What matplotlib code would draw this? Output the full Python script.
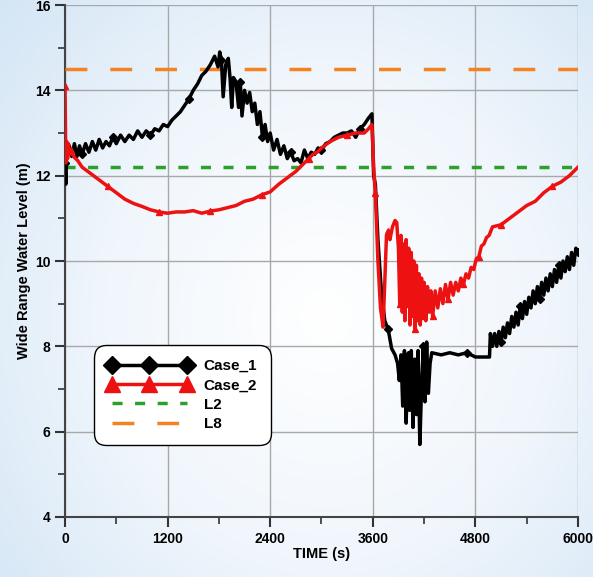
import numpy as np
import matplotlib
matplotlib.use("Agg")
import matplotlib.pyplot as plt
from matplotlib.colors import LinearSegmentedColormap

# Case_1 (black)
t1 = [0, 10, 20, 35, 50, 80, 110, 140, 170, 200, 240, 280, 320, 360, 400, 440, 480, 520,
      560, 600, 650, 700, 750, 800, 850, 900, 950, 1000, 1050, 1100, 1150, 1200, 1250, 1300,
      1350, 1400, 1450, 1500, 1550, 1600, 1650, 1700, 1750, 1790, 1810, 1830, 1850, 1880,
      1910, 1930, 1950, 1970, 2000, 2030, 2050, 2070, 2100, 2130, 2160, 2190, 2220, 2250,
      2280, 2310, 2340, 2370, 2400, 2440, 2480, 2520, 2560, 2600, 2640, 2680, 2720, 2760,
      2800, 2840, 2880, 2920, 2960, 3000, 3050, 3100, 3150, 3200, 3250, 3300, 3350, 3400,
      3450, 3500, 3550, 3590, 3610, 3630, 3660, 3700, 3740, 3780, 3820, 3860, 3890, 3910,
      3930, 3950, 3970, 3990, 4010, 4030, 4050, 4070, 4090, 4110, 4130, 4150, 4170, 4190,
      4210, 4230, 4250, 4270, 4290, 4400, 4500, 4600, 4700, 4800, 4900, 4965, 4975,
      5000, 5025, 5050, 5075, 5100, 5125, 5150, 5175, 5200, 5225, 5250, 5275, 5300, 5325,
      5350, 5375, 5400, 5425, 5450, 5475, 5500, 5525, 5550, 5575, 5600, 5625, 5650, 5675,
      5700, 5725, 5750, 5775, 5800, 5825, 5850, 5875, 5900, 5925, 5950, 5975, 6000]
y1 = [12.3, 11.8, 12.7, 12.5, 12.7, 12.45, 12.75, 12.45, 12.7, 12.5, 12.75, 12.55, 12.8,
      12.6, 12.85, 12.65, 12.8, 12.7, 12.9, 12.75, 12.95, 12.8, 12.95, 12.85, 13.05, 12.9,
      13.05, 12.95, 13.1, 13.05, 13.2, 13.15, 13.3, 13.4, 13.5, 13.65, 13.8, 14.0, 14.15,
      14.35, 14.45, 14.6, 14.8, 14.55, 14.9, 14.7, 13.85, 14.6, 14.75, 14.3, 13.6, 14.3,
      14.2, 13.6, 14.2, 13.4, 14.0, 13.7, 13.95, 13.5, 13.7, 13.2, 13.5, 12.9, 13.2, 12.8,
      13.0, 12.6, 12.85, 12.5, 12.7, 12.4, 12.55, 12.35, 12.4, 12.3, 12.6, 12.4, 12.55,
      12.5, 12.65, 12.6, 12.75, 12.8, 12.9, 12.95, 13.0, 13.0, 13.05, 12.9, 13.1, 13.2,
      13.35, 13.45, 12.0, 11.8, 10.5, 9.3, 8.6, 8.4, 7.95, 7.8, 7.6, 7.2, 7.8, 6.6, 7.9,
      6.2, 7.8, 6.5, 7.9, 6.1, 7.7, 6.4, 7.9, 5.7, 7.0, 8.0, 6.7, 8.1, 6.9, 7.6, 7.85,
      7.8, 7.85, 7.8, 7.85, 7.75, 7.75, 7.75, 8.3,
      8.0, 8.3, 8.0, 8.35, 8.1, 8.45, 8.2, 8.55, 8.3, 8.7, 8.45, 8.8, 8.5, 8.95,
      8.65, 9.05, 8.75, 9.15, 8.9, 9.3, 9.0, 9.4, 9.1, 9.5, 9.2, 9.6, 9.3, 9.7,
      9.4, 9.8, 9.5, 9.9, 9.6, 10.0, 9.75, 10.1, 9.8, 10.2, 9.9, 10.3, 10.2]

# Case_2 (red)
t2 = [0, 10, 20, 30, 40, 55, 70, 100, 150, 200, 300, 400, 500, 600, 700, 800, 900, 1000,
      1100, 1200, 1300, 1400, 1500, 1600, 1700, 1800, 1900, 2000, 2100, 2200, 2300, 2400,
      2500, 2600, 2700, 2800, 2850, 2900, 2950, 3000, 3100, 3200, 3300, 3400, 3500, 3550,
      3590, 3610, 3630, 3660, 3690, 3720, 3740, 3760, 3780, 3800, 3830, 3860, 3880, 3900,
      3915, 3930, 3945, 3960, 3975, 3990, 4005, 4020, 4035, 4050, 4065, 4080, 4095, 4110,
      4125, 4140, 4155, 4170, 4185, 4200, 4220, 4240, 4260, 4280, 4300, 4330, 4360, 4390,
      4420, 4450, 4480, 4510, 4540, 4570, 4600, 4630, 4660, 4690, 4720, 4750, 4780, 4810,
      4840, 4870, 4900, 4930, 4960, 5000, 5100, 5200, 5300, 5400, 5500, 5600, 5700, 5800,
      5900, 6000]
y2 = [14.1, 12.3, 12.8, 12.4, 12.75, 12.5, 12.6, 12.45, 12.35, 12.2, 12.05, 11.9, 11.75,
      11.6, 11.45, 11.35, 11.28, 11.2, 11.15, 11.12, 11.15, 11.15, 11.18, 11.12, 11.17,
      11.2, 11.25, 11.3, 11.4, 11.45, 11.55, 11.62, 11.8, 11.95, 12.1, 12.3, 12.4, 12.5,
      12.55, 12.65, 12.8, 12.9, 12.95, 13.0, 13.0, 13.1, 13.2, 12.2, 11.6, 10.0, 8.9, 8.45,
      9.5, 10.6, 10.7, 10.5, 10.8, 10.95, 10.9, 10.3,
      9.0, 10.6, 8.8, 10.4, 8.6, 10.5, 9.0, 10.3, 8.5, 10.2, 8.7, 10.0, 8.4, 9.9,
      8.6, 9.7, 8.5, 9.6, 8.7, 9.5, 8.6, 9.4, 8.8, 9.3, 8.7, 9.3, 8.9, 9.35,
      9.0, 9.45, 9.1, 9.5, 9.2, 9.5, 9.3, 9.6, 9.45, 9.7, 9.6, 9.85, 9.8, 10.05,
      10.1, 10.35, 10.4, 10.55, 10.6, 10.8, 10.85, 11.0, 11.15, 11.3, 11.4, 11.6, 11.75, 11.85,
      12.0, 12.2]

L2 = 12.2
L8 = 14.5
x_ticks = [0, 1200, 2400, 3600, 4800, 6000]
y_ticks = [4, 6, 8, 10, 12, 14, 16]

plt.rcParams["font.family"] = ["Liberation Sans", "DejaVu Sans"]
plt.rcParams["font.weight"] = "bold"

fig = plt.figure(figsize=(5.93, 5.77), dpi=100)

# soft blue background
bg = fig.add_axes([0, 0, 1, 1], zorder=-10)
yy, xx = np.mgrid[0:1:200j, 0:1:200j]
r = np.sqrt(((xx - 0.55) / 0.75) ** 2 + ((yy - 0.55) / 0.85) ** 2)
cmap = LinearSegmentedColormap.from_list("bgblue", ["#ffffff", "#f0f6fc", "#d3e5f5"])
bg.imshow(r, cmap=cmap, vmin=0.0, vmax=1.0, extent=[0, 1, 0, 1], aspect="auto")
bg.axis("off")

ax = fig.add_axes([0.1096, 0.104, 0.8651, 0.8873])
ax.set_facecolor((1, 1, 1, 0.0))

ax.plot(t1, y1, color="black", lw=2.5, marker="D", markersize=4,
        markevery=slice(0, None, 9), label="Case_1", zorder=4)
ax.plot(t2, y2, color="#ee1111", lw=2.5, marker="^", markersize=5,
        markevery=slice(0, None, 6), label="Case_2", zorder=5)
ax.axhline(L2, color="#2ca02c", lw=2.5, ls=(0, (2.9, 3.6)), label="L2", zorder=3)
ax.axhline(L8, color="#f58220", lw=2.5, ls=(0, (6.3, 6.6)), label="L8", zorder=3)

ax.set_xlim(0, 6000)
ax.set_ylim(4, 16)
ax.set_xticks(x_ticks)
ax.set_yticks(y_ticks)
ax.set_xticks([600, 1800, 3000, 4200, 5400], minor=True)
ax.set_yticks([5, 7, 9, 11, 13, 15], minor=True)
ax.tick_params(which="major", length=7, width=1.5, labelsize=10, color="#333333")
ax.tick_params(which="minor", length=5, width=1.2, color="#333333")
ax.grid(True, which="major", color="#a8a8a8", lw=1.0)
ax.set_axisbelow(True)
for s in ["top", "right"]:
    ax.spines[s].set_visible(False)
for s in ["left", "bottom"]:
    ax.spines[s].set_color("#444444")
    ax.spines[s].set_linewidth(1.5)

ax.set_xlabel("TIME (s)", fontsize=10.5, fontweight="bold", labelpad=1)
ax.set_ylabel("Wide Range Water Level (m)", fontsize=10.5, fontweight="bold", labelpad=3)

leg = ax.legend(loc="lower left", bbox_to_anchor=(0.05, 0.135), fontsize=11,
                handlelength=5.5, numpoints=3, markerscale=2.3, fancybox=True,
                framealpha=1, edgecolor="black", borderpad=0.6, labelspacing=0.35)
leg.get_frame().set_linewidth(1.0)
leg.get_frame().set_boxstyle("round", pad=0.3, rounding_size=0.8)

fig.savefig("out.png", dpi=100)
